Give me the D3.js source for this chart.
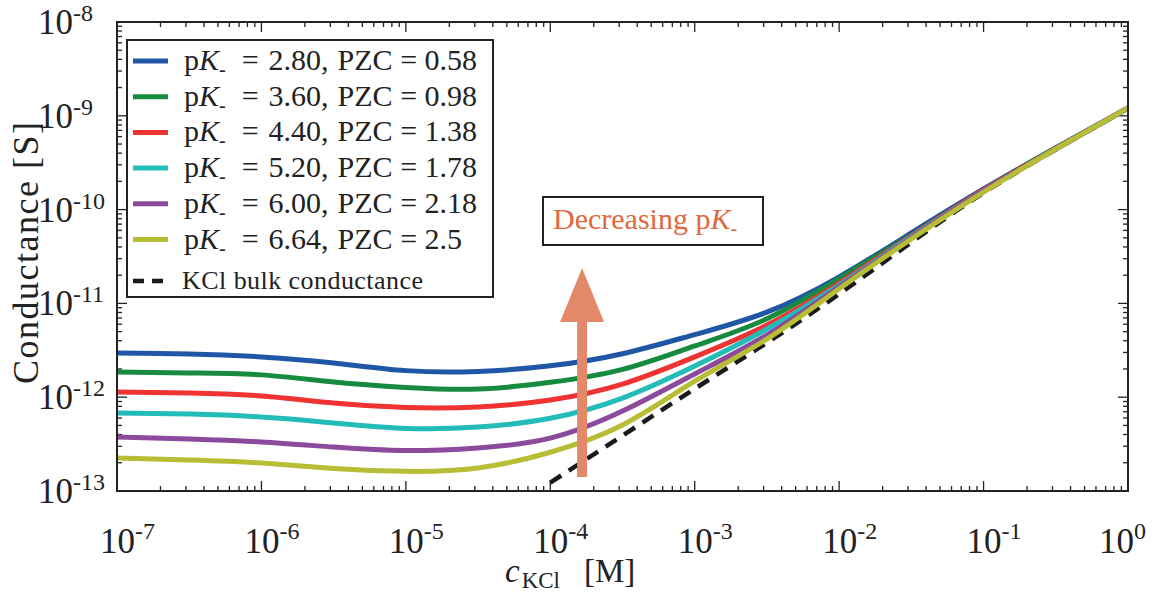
<!DOCTYPE html>
<html>
<head>
<meta charset="utf-8">
<script src="https://cdn.jsdelivr.net/npm/d3@7"></script>
<style>
  body { margin: 0; background: #fff; }
  text { font-family: "Liberation Serif", "DejaVu Serif", serif; fill: #222; }
</style>
</head>
<body>
<div id="mainChart"></div>
<script>
// KCl concentration [M]
const conc = [1e-7, 3.16e-7, 1e-6, 3.16e-6, 1e-5, 3.16e-5, 1e-4, 3.16e-4,
              1e-3, 3.16e-3, 1e-2, 3.16e-2, 1e-1, 3.16e-1, 1];

// conductance [S] per pK_ value
const g280 = [2.96e-12, 2.89e-12, 2.69e-12, 2.32e-12, 1.92e-12, 1.88e-12, 2.16e-12, 2.91e-12,
              4.65e-12, 8.06e-12, 1.92e-11, 5.64e-11, 1.66e-10, 4.54e-10, 1.21e-9];
const g360 = [1.86e-12, 1.81e-12, 1.73e-12, 1.45e-12, 1.27e-12, 1.22e-12, 1.44e-12, 1.98e-12,
              3.52e-12, 6.85e-12, 1.84e-11, 5.36e-11, 1.62e-10, 4.54e-10, 1.21e-9];
const g440 = [1.135e-12, 1.11e-12, 1.03e-12, 8.67e-13, 7.75e-13, 7.85e-13, 9.33e-13, 1.38e-12,
              2.69e-12, 5.87e-12, 1.65e-11, 5.24e-11, 1.62e-10, 4.48e-10, 1.21e-9];
const g520 = [6.79e-13, 6.62e-13, 6.15e-13, 5.31e-13, 4.65e-13, 4.81e-13, 5.96e-13, 9.79e-13,
              2.15e-12, 5.33e-12, 1.57e-11, 5.11e-11, 1.58e-10, 4.43e-10, 1.21e-9];
const g600 = [3.77e-13, 3.58e-13, 3.33e-13, 2.94e-13, 2.70e-13, 2.88e-13, 3.66e-13, 7.11e-13,
              1.77e-12, 4.60e-12, 1.50e-11, 4.98e-11, 1.58e-10, 4.43e-10, 1.21e-9];
const g664 = [2.25e-13, 2.14e-13, 1.99e-13, 1.74e-13, 1.62e-13, 1.76e-13, 2.59e-13, 5.05e-13,
              1.48e-12, 4.17e-12, 1.43e-11, 4.86e-11, 1.54e-10, 4.43e-10, 1.21e-9];

// KCl bulk conductance
const bulkConc = [1e-4, 3.16e-4, 1e-3, 3.16e-3, 1e-2, 3.16e-2, 1e-1, 3.16e-1, 1];
const bulkG = [1.23e-13, 3.89e-13, 1.23e-12, 3.80e-12, 1.26e-11, 4.47e-11, 1.51e-10, 4.37e-10, 1.20e-9];

const pK = ['2.80', '3.60', '4.40', '5.20', '6.00', '6.64'];
const pzc = ['0.58', '0.98', '1.38', '1.78', '2.18', '2.5'];
const colors = ['#1f56a5', '#168a3e', '#ef3333', '#22bcb9', '#8c4a9d', '#b7be35'];

const xExp = [-7, -6, -5, -4, -3, -2, -1, 0];
const yExp = [-13, -12, -11, -10, -9, -8];

// arrow "Decreasing pK_"
const arrowC = 1.66e-4, arrowFrom = 1.41e-13, arrowTo = 2.38e-11;

const width = 1157, height = 596;
const margin = { top: 22, right: 29, bottom: 105, left: 117 };

const svg = d3.select('#mainChart').append('svg')
    .attr('width', width)
    .attr('height', height);

const x = d3.scaleLog().domain([1e-7, 1]).range([margin.left, width - margin.right]);
const y = d3.scaleLog().domain([1e-13, 1e-8]).range([height - margin.bottom, margin.top]);

const x0 = margin.left, x1 = width - margin.right;
const y0 = height - margin.bottom, y1 = margin.top;

const line = d3.line()
    .x(d => x(d[0]))
    .y(d => y(d[1]))
    .curve(d3.curveNatural);

// ticks (inward, all four sides)
const ticks = svg.append('g').attr('stroke', '#222').attr('stroke-width', 1.3);
const minor = (exps) => {
    const out = [];
    exps.slice(0, -1).forEach(e => { for (let m = 2; m < 10; m++) out.push(m * Math.pow(10, e)); });
    return out;
};
const xMaj = xExp.map(e => Math.pow(10, e)), yMaj = yExp.map(e => Math.pow(10, e));
xMaj.forEach(v => {
    ticks.append('line').attr('x1', x(v)).attr('x2', x(v)).attr('y1', y0).attr('y2', y0 - 10);
    ticks.append('line').attr('x1', x(v)).attr('x2', x(v)).attr('y1', y1).attr('y2', y1 + 10);
});
minor(xExp).forEach(v => {
    ticks.append('line').attr('x1', x(v)).attr('x2', x(v)).attr('y1', y0).attr('y2', y0 - 5);
    ticks.append('line').attr('x1', x(v)).attr('x2', x(v)).attr('y1', y1).attr('y2', y1 + 5);
});
yMaj.forEach(v => {
    ticks.append('line').attr('y1', y(v)).attr('y2', y(v)).attr('x1', x0).attr('x2', x0 + 10);
    ticks.append('line').attr('y1', y(v)).attr('y2', y(v)).attr('x1', x1).attr('x2', x1 - 10);
});
minor(yExp).forEach(v => {
    ticks.append('line').attr('y1', y(v)).attr('y2', y(v)).attr('x1', x0).attr('x2', x0 + 5);
    ticks.append('line').attr('y1', y(v)).attr('y2', y(v)).attr('x1', x1).attr('x2', x1 - 5);
});

// tick labels
yExp.forEach(e => {
    const t = svg.append('text').attr('x', 38).attr('y', y(Math.pow(10, e)) + 12)
        .attr('font-size', 35);
    t.append('tspan').text('10');
    t.append('tspan').attr('font-size', 24).attr('dy', -13).text(e);
});
xExp.forEach(e => {
    const px = Math.min(x(Math.pow(10, e)) - 17, 1099);
    const t = svg.append('text').attr('x', px).attr('y', 553)
        .attr('font-size', 35);
    t.append('tspan').text('10');
    t.append('tspan').attr('font-size', 24).attr('dy', -14).text(e);
});

// axis titles
const xt = svg.append('text').attr('x', 505).attr('y', 582).attr('font-size', 33);
xt.append('tspan').attr('font-style', 'italic').text('c');
xt.append('tspan').attr('font-size', 23).attr('dy', 6).attr('dx', 2).text('KCl');
xt.append('tspan').attr('dy', -6).attr('dx', 24).text('[M]');

svg.append('text')
    .attr('transform', 'translate(38,253) rotate(-90)')
    .attr('text-anchor', 'middle')
    .attr('font-size', 36)
    .attr('textLength', 262)
    .attr('lengthAdjust', 'spacing')
    .text('Conductance [S]');

// curves
const plot = svg.append('g');
plot.append('path')
    .datum(bulkConc.map((c, i) => [c, bulkG[i]]))
    .attr('fill', 'none')
    .attr('stroke', '#1a1a1a')
    .attr('stroke-width', 4.5)
    .attr('stroke-dasharray', '13,9')
    .attr('d', line);

[g280, g360, g440, g520, g600, g664].forEach((g, k) => {
    plot.append('path')
        .datum(conc.map((c, i) => [c, g[i]]))
        .attr('fill', 'none')
        .attr('stroke', colors[k])
        .attr('stroke-width', 5)
        .attr('stroke-linejoin', 'round')
        .attr('d', line);
});

// arrow
const ax = x(arrowC), ayFrom = y(arrowFrom), ayTo = y(arrowTo);
svg.append('line')
    .attr('x1', ax).attr('x2', ax)
    .attr('y1', ayFrom).attr('y2', ayTo + 50)
    .attr('stroke', '#e3896a').attr('stroke-width', 10);
svg.append('path')
    .attr('d', `M${ax},${ayTo} L${ax - 22},${ayTo + 54} L${ax + 22},${ayTo + 54} Z`)
    .attr('fill', '#e3896a');

// annotation box
svg.append('rect')
    .attr('x', 543).attr('y', 197).attr('width', 220).attr('height', 48)
    .attr('fill', '#fff').attr('stroke', '#222').attr('stroke-width', 2);
const ann = svg.append('text').attr('x', 553).attr('y', 229)
    .attr('font-size', 30).style('fill', '#e0683c');
ann.append('tspan').text('Decreasing p');
ann.append('tspan').attr('font-style', 'italic').text('K');
ann.append('tspan').attr('font-size', 20).attr('dy', 6).text('-');

// legend
const lg = svg.append('g');
lg.append('rect')
    .attr('x', 127).attr('y', 40).attr('width', 366).attr('height', 257)
    .attr('fill', '#fff').attr('stroke', '#222').attr('stroke-width', 2);
pK.forEach((p, i) => {
    const ly = 61 + i * 35.7;
    lg.append('line').attr('x1', 133).attr('x2', 168).attr('y1', ly).attr('y2', ly)
        .attr('stroke', colors[i]).attr('stroke-width', 5);
    const t = lg.append('text').attr('x', 184).attr('y', ly + 9).attr('font-size', 30);
    t.append('tspan').text('p');
    t.append('tspan').attr('font-style', 'italic').text('K');
    t.append('tspan').attr('font-size', 20).attr('dy', 6).text('-');
    t.append('tspan').attr('dy', -6).attr('dx', 16).text('=');
    t.append('tspan').attr('dx', 10).text(`${p},`);
    t.append('tspan').attr('dx', 9).text('PZC = ' + pzc[i]);
});
lg.append('line').attr('x1', 133).attr('x2', 168).attr('y1', 281).attr('y2', 281)
    .attr('stroke', '#1a1a1a').attr('stroke-width', 4.5).attr('stroke-dasharray', '11,8');
lg.append('text').attr('x', 182).attr('y', 289).attr('font-size', 26)
    .attr('textLength', 241).attr('lengthAdjust', 'spacing')
    .text('KCl bulk conductance');

// frame
svg.append('rect')
    .attr('x', x0).attr('y', y1).attr('width', x1 - x0).attr('height', y0 - y1)
    .attr('fill', 'none').attr('stroke', '#222').attr('stroke-width', 2);
</script>
</body>
</html>
